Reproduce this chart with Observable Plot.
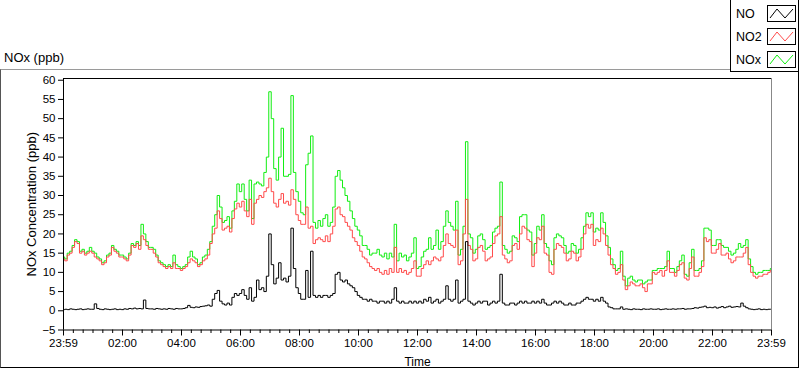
<!DOCTYPE html>
<html><head><meta charset="utf-8">
<script src="https://cdn.jsdelivr.net/npm/d3@7"></script>
<script src="https://cdn.jsdelivr.net/npm/@observablehq/plot@0.6"></script>
<style>
html,body{margin:0;padding:0;background:#fff;}
#wrap{position:relative;width:800px;height:369px;overflow:hidden;font-family:"Liberation Sans",Arial,sans-serif;color:#000;}
#panel{position:absolute;left:0;top:69px;width:797px;height:297px;border-top:1px solid #9a9a9a;border-left:1px solid #555;border-bottom:1px solid #000;border-right:1px solid #000;}
#chart{position:absolute;left:0;top:0;}
#unit{position:absolute;left:4px;top:50px;font-size:13px;line-height:15px;}
#legend{position:absolute;left:730px;top:-1px;width:67px;height:71px;border:1px solid #000;background:#fff;}
.li{position:absolute;left:5px;font-size:12.5px;line-height:14px;}
.sw{position:absolute;left:36px;}
</style></head>
<body><div id="wrap"><div id="panel"></div><div id="chart"></div><div id="unit">NOx (ppb)</div><div id="legend"></div></div>
<script>
// 5-minute samples from 23:59 (start) to 23:59 (end)
const no2 = [
13.5,13,14.5,15,16.5,18,17.5,15,15.5,14.5,15,15.5,
15,14,13.5,13,12,12.5,14,14.5,16.5,15.5,15,14,
14,13.5,13,14.5,17,16.5,17.5,16,19.5,18.5,17,16,
16,15,14,12.5,12,11.5,11,11.5,11,12.5,11,11,
10.5,11,11.5,12.5,13.5,13,12.5,11.5,12,13,13.5,14.5,
17.5,20,21.5,26,24,21,21.5,22,20.5,24,26.5,28,
27,28.5,26,24.5,29,22.5,28,29,30,29.5,31,32,
34.5,31,28,27,29,30.5,28,28.5,27.5,31.5,29,25,
23.5,22.5,22.5,27,21.5,22,17.5,18.5,19,18.5,18,19.5,
18,20,22,26.5,27,25,24.5,23,22,21,19,18,
17,15.5,14,13.5,12.5,11.5,11,10.5,11,10,9.5,10.5,
9.5,11,10,16.5,10,11,10,10.5,9.5,10,11,13,
9,9,11,12,13,12,13,14,13.5,13,14,17,
20,17.5,17,16.5,21,12,13,20,29,17,16,13,
13.5,16.5,17,15.5,13,13.5,14,17.5,19.5,20,24.5,14.5,
13.5,12.5,13,17,17.5,16,20,22,21.5,18.5,18,11.5,
15,19,18.5,22,15,14.5,10,9.5,16,17.5,17,16.5,
15,13,13.5,15.5,15,13,14,16,20,22.5,21.5,22.5,
17,18.5,18,21.5,20,17,14.5,12,11,9.5,10,12,
8,5.5,6.5,7.5,7,6.5,6.5,7,6,5,7,7,
10,9.5,10,10.5,9,10.5,13,10,10,9,10.5,12,
12.5,8.5,8,11,14,9,9,10,11.5,19,18,18.5,
15,15,16,17.5,14.5,14.5,15,13.5,12.5,13,14,14,
14,15,16.5,12,10,9,8.5,9,9,9.5,9.5,10,
10.5];
const nox = [
14,13.5,15,15.5,17,18.5,18,15.5,16,15,15.5,16.5,
15.5,15,14,13.5,12.5,13,14.5,15,17,16,15.5,14.5,
14.5,14,13.5,15,17.5,17,18,17,22.5,20,18,16.5,
16.5,16,14.5,13,12.5,12,11.5,12,11.5,14.5,12,11.5,
11,11.5,12,14,15.5,14,13.5,12,12.5,14,14.5,16,
18,22,25,30,27,23,23.5,24.5,21.5,26,28.5,33,
31,33,29,26,34,24,33,33.5,33,32.5,36,40,
57,50,37,34,40,47.5,35,35,35.5,56,36,31,
28.5,25.5,25,38,41,45.5,23,21.5,23.5,22,24,25,
22,23,27,35,36.5,34,32,30,28.5,26,24,22,
21,19.5,17,17,16,14.5,15,15,16,14.5,14,15,
13.5,15,14,22.5,13,15,14,14.5,13,14,15,19,
11,11.5,14,15.5,16,19,16,17,21,16,18,22,
26,23,22,21,28.5,14.5,16,22,44,20,19,15,
16,19.5,20,18.5,16,16.5,17,20.5,21.5,22,33.5,17,
16,15,15.5,19.5,19,18,24.5,25,25,21,20.5,14.5,
17.5,22,21,25,17.5,16.5,13,12,19,20,19.5,19,
17,15,15.5,17.5,17,15,16,19,22,25.5,24.5,25.5,
20.5,21.5,21,25.5,23,19.5,16.5,13.5,12,10.5,11,15.5,
9,6.5,8.5,9,8,7.5,8,8,7,7.5,8,8,
10.5,10.5,11,11,11,11.5,15.5,11,11,10,11.5,13,
14.5,9.5,9,12.5,16,10.5,10.5,11,13,21.5,21.5,21,
17,17,18.5,18.5,17,16.5,16.5,15.5,14.5,15,16,17.5,
16.5,17,18.5,13.5,11.5,10,9.5,10,10,10.5,10.5,10.5,
11];
const no = [
0.3,0.4,0.3,0.5,0.4,0.3,0.4,0.5,0.3,0.4,0.5,0.4,
0.4,1.8,0.6,0.4,0.3,0.5,0.4,0.3,0.4,0.5,0.3,0.4,
0.3,0.5,0.4,0.6,0.5,0.7,0.5,0.6,0.5,2.8,0.6,0.5,
0.5,0.4,0.6,0.5,0.4,0.5,0.4,0.6,0.5,0.4,0.6,0.5,
0.5,0.6,0.8,1.4,0.9,0.8,1,0.9,1.1,1.2,1.3,1.5,
1.2,3,4.5,5.3,2.5,1.8,1.5,2,1.5,3.5,4.5,4,
4.5,5.5,4,3,6,2.5,3.5,8,5.5,6,5,9,
20,12,7,8.5,12.5,8,8.5,7.5,9,21.5,11,6,
4.5,3,3,10.5,3.5,15.5,4,3.5,4,3.5,4,4,
3.5,4,4.5,9.5,10,8,7.5,8,7,6.5,6,5,
4,3.5,3,3,2.5,3,2.5,2.5,2,2.5,2.5,2,
2.5,2,3,6,2.5,2,2.5,2,2,2.5,2,2.5,
2,2.5,2,3,2.5,3.5,2,2.5,3,2,2.5,3,
6.5,3,2.5,3,8,2,2.5,3,18,2.5,2,1.5,
2,2.5,2,2.5,2.5,1.5,2,2.5,2,2.5,9.5,2,
1.5,1.5,2,2,1.5,2,2.5,2,2.5,2,2,2.5,
2,2.5,2,3,2,1.5,1.5,2,2.5,2,2.5,2,
1.5,1.5,2,1.5,1.5,2,2,2.5,3,3.5,3,3,
2.5,3,2.5,3.5,2.5,2,1,0.8,0.5,0.5,0.5,1,
0.4,0.5,0.4,0.3,0.5,0.4,0.4,0.3,0.5,0.4,0.4,0.5,
0.4,0.4,0.5,0.3,0.4,0.5,0.4,0.4,0.5,0.4,0.5,0.5,
0.6,0.4,0.5,0.5,0.6,0.8,0.7,0.9,1,1.2,0.8,0.9,
0.8,1,0.7,0.9,1.1,0.8,1,1.2,0.9,1,1.1,1,
2,1.2,0.8,0.5,0.4,0.3,0.4,0.5,0.3,0.4,0.3,0.4,
0.4];
const seriesNames = ["NO", "NO2", "NOx"];
const seriesColors = ["#000000", "#ff4a4a", "#10ee10"];
const xTickLabels = ["23:59","02:00","04:00","06:00","08:00","10:00","12:00","14:00","16:00","18:00","20:00","22:00","23:59"];
const yTicks = [-5,0,5,10,15,20,25,30,35,40,45,50,55,60];
const stepMinutes = 5;

const rows = (arr) => arr.map((v, i) => ({t: i * stepMinutes, v}));
const majorTicks = xTickLabels.map((_, i) => i * 120);
const minorTicks = d3.range(0, 1441, 20).filter(m => m % 120 !== 0);

const chart = Plot.plot({
  width: 800, height: 369,
  marginLeft: 63, marginRight: 29, marginTop: 78, marginBottom: 39.5,
  x: {domain: [0, 1440]},
  y: {domain: [-5, 60.45]},
  style: {fontFamily: '"Liberation Sans", Arial, sans-serif', fontSize: "11.5px", color: "#000", background: "transparent", overflow: "visible"},
  marks: [
    Plot.line(rows(nox), {x: "t", y: "v", stroke: seriesColors[2], strokeWidth: 1, curve: "step"}),
    Plot.line(rows(no2), {x: "t", y: "v", stroke: seriesColors[1], strokeWidth: 1, curve: "step"}),
    Plot.line(rows(no), {x: "t", y: "v", stroke: seriesColors[0], strokeWidth: 1, curve: "step"}),
    Plot.ruleY([60.45], {stroke: "#000"}),
    Plot.ruleX([1440], {stroke: "#888"}),
    Plot.ruleX([0], {stroke: "#000"}),
    Plot.ruleY([-5], {stroke: "#000"}),
    Plot.axisY(yTicks, {tickSize: 5, tickPadding: 3, label: null, fontSize: 11.5}),
    Plot.axisX(majorTicks, {tickSize: 6, tickPadding: 3, label: null, fontSize: 11.5, tickFormat: (d) => xTickLabels[d / 120]}),
    Plot.axisX(minorTicks, {tickSize: 3.5, label: null, tickFormat: () => ""}),
    Plot.text(["NOx Concentration (ppb)"], {frameAnchor: "left", textAnchor: "middle", lineAnchor: "middle", rotate: -90, dx: -32, fontSize: 13}),
    Plot.text(["Time"], {frameAnchor: "bottom", lineAnchor: "middle", dy: 32, fontSize: 12})
  ]
});
document.getElementById("chart").appendChild(chart);

const legend = document.getElementById("legend");
seriesNames.forEach((name, i) => {
  const top = 5 + i * 23;
  const lab = document.createElement("div");
  lab.className = "li"; lab.style.top = (top + 2) + "px"; lab.textContent = name;
  legend.appendChild(lab);
  const sw = document.createElementNS("http://www.w3.org/2000/svg", "svg");
  sw.setAttribute("class", "sw"); sw.setAttribute("width", 30); sw.setAttribute("height", 18);
  sw.style.top = top + "px";
  sw.innerHTML = `<rect x="0.5" y="0.5" width="28" height="16" fill="#fff" stroke="#000"/><polyline points="3,13 10,4 18,13 26,4" fill="none" stroke="${seriesColors[i]}" stroke-width="1"/>`;
  legend.appendChild(sw);
});
</script></body></html>
